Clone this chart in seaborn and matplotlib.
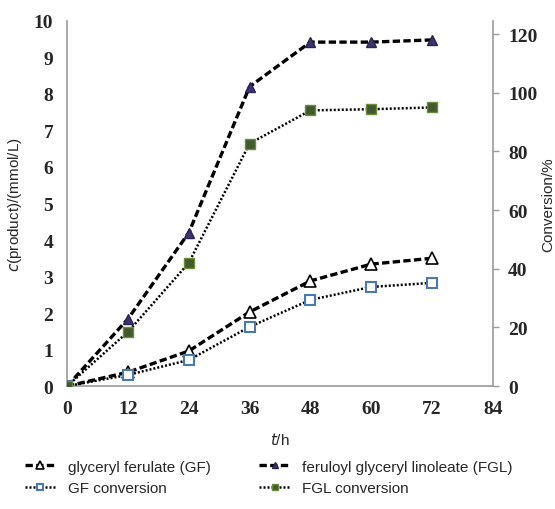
import pandas as pd
import seaborn as sns
import matplotlib.pyplot as plt

# time points (h)
time_h = [0, 12, 24, 36, 48, 60, 72]
# concentrations, mmol/L (left axis)
gf_conc = [0, 0.38, 0.96, 2.03, 2.88, 3.34, 3.50]
fgl_conc = [0, 1.84, 4.20, 8.20, 9.42, 9.42, 9.48]
# conversions, % (right axis)
gf_conv = [0, 3.8, 8.9, 20.2, 29.4, 33.8, 35.2]
fgl_conv = [0, 18.5, 42.0, 82.7, 94.0, 94.4, 95.0]

x_ticks = [0, 12, 24, 36, 48, 60, 72, 84]
left_ticks = list(range(0, 11))
right_ticks = [0, 20, 40, 60, 80, 100, 120]

df = pd.DataFrame({'t': time_h, 'gf': gf_conc, 'fgl': fgl_conc,
                   'gf_conv': gf_conv, 'fgl_conv': fgl_conv})

sns.set_style('white')
plt.rcParams['font.family'] = ['Liberation Sans', 'DejaVu Sans']

fig = plt.figure(figsize=(5.55, 5.1), dpi=100)
ax = fig.add_axes([0.121, 0.241, 0.767, 0.716])
ax2 = ax.twinx()

dash = (2.2, 1.0)
dot = (0.8, 0.8)

sns.lineplot(data=df, x='t', y='gf', ax=ax, color='black', lw=2.4,
             marker='^', markersize=8, markerfacecolor='white',
             markeredgecolor='black', markeredgewidth=1.2,
             label='glyceryl ferulate (GF)')
ax.lines[-1].set_dashes(dash)
sns.lineplot(data=df, x='t', y='fgl', ax=ax, color='black', lw=2.4,
             marker='^', markersize=7, markerfacecolor='#3b3470',
             markeredgecolor='#2a2550', markeredgewidth=1.0,
             label='feruloyl glyceryl linoleate (FGL)')
ax.lines[-1].set_dashes(dash)
sns.lineplot(data=df, x='t', y='gf_conv', ax=ax2, color='black', lw=1.8,
             marker='s', markersize=7, markerfacecolor='white',
             markeredgecolor='#4a78b5', markeredgewidth=1.5,
             label='GF conversion')
ax2.lines[-1].set_dashes(dot)
sns.lineplot(data=df, x='t', y='fgl_conv', ax=ax2, color='black', lw=1.8,
             marker='s', markersize=7, markerfacecolor='#3f5a2c',
             markeredgecolor='#6b8a3a', markeredgewidth=1.0,
             label='FGL conversion')
ax2.lines[-1].set_dashes(dot)

ax.set_xlim(0, 84)
ax.set_ylim(0, 10)
ax2.set_ylim(0, 124.5)
ax.set_xticks(x_ticks)
ax.set_yticks(left_ticks)
ax2.set_yticks(right_ticks)

tick_font = dict(family='Liberation Serif', weight='bold', size=14)
ax.set_xticklabels([str(v) for v in x_ticks], **tick_font)
ax.set_yticklabels([str(v) for v in left_ticks], **tick_font)
ax2.set_yticklabels([str(v) for v in right_ticks], **tick_font)

for a in (ax, ax2):
    for s in a.spines.values():
        s.set_color('#999999')
        s.set_linewidth(1.2)
    a.spines['top'].set_visible(False)
ax.spines['right'].set_visible(False)
ax2.spines['left'].set_visible(False)
ax2.spines['bottom'].set_visible(False)

ax.tick_params(axis='y', length=0, pad=10)
ax.tick_params(axis='x', length=0, pad=10)
ax2.tick_params(axis='y', length=4, width=1, color='#999999', pad=7, right=True)

ax.set_xlabel('$t$/h', fontsize=11, labelpad=10)
ax.set_ylabel('$c$(product)/(mmol/L)', fontsize=11, labelpad=7)
ax2.set_ylabel('Conversion/%', fontsize=11, labelpad=3)

ax.legend_.remove()
ax2.legend_.remove()
h1, l1 = ax.get_legend_handles_labels()
h2, l2 = ax2.get_legend_handles_labels()
handles = [h1[0], h2[0], h1[1], h2[1]]
labels = [l1[0], l2[0], l1[1], l2[1]]
fig.legend(handles, labels, ncol=2, loc='lower left',
           bbox_to_anchor=(0.02, 0.0), frameon=False, fontsize=11,
           handlelength=2.0, handletextpad=0.8, columnspacing=3.2,
           labelspacing=0.5, markerscale=0.7)

fig.savefig('out.png', dpi=100)
